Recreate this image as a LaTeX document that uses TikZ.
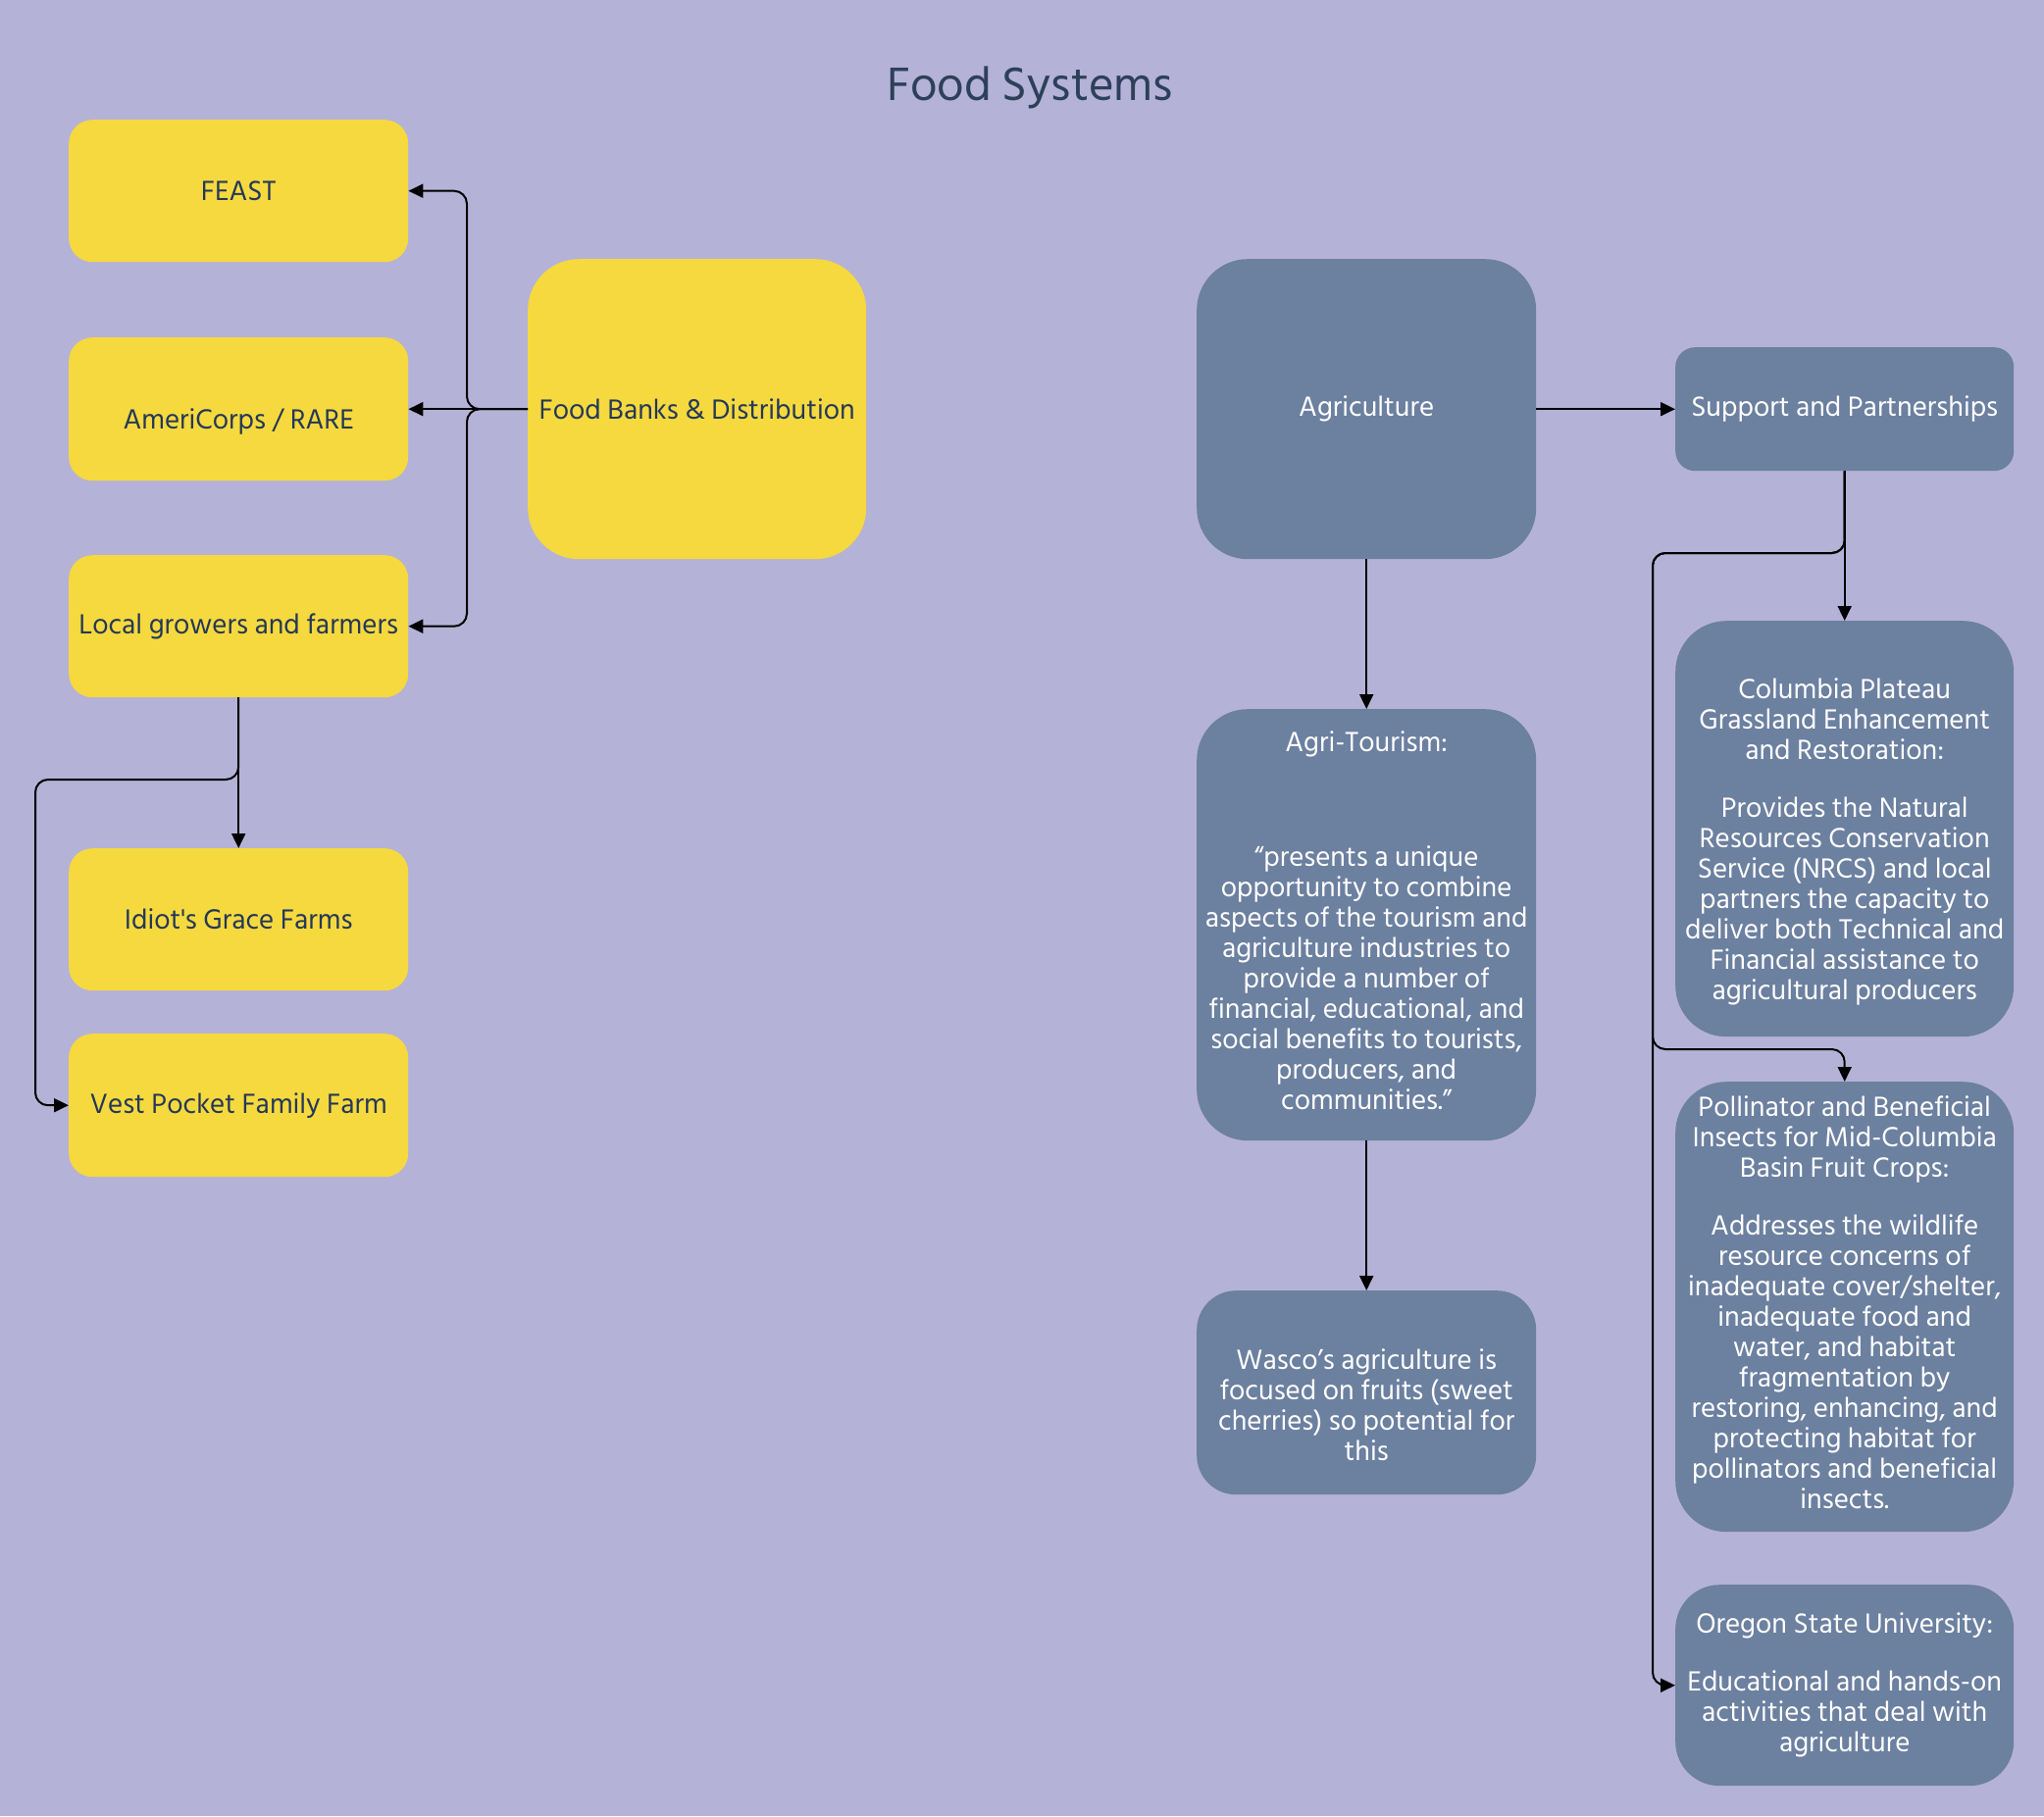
\documentclass[tikz,border=0pt]{standalone}
\usepackage{fontspec}
\setmainfont{Hind Siliguri}[Ligatures=TeXOff]
\usetikzlibrary{arrows.meta}
\definecolor{bgc}{HTML}{B5B2D7}
\definecolor{yel}{HTML}{F5D93E}
\definecolor{slate}{HTML}{6C80A0}
\definecolor{navy}{HTML}{253858}
\definecolor{titlec}{HTML}{2D4059}
\newcommand{\lowerby}[2]{\raisebox{-#1}[\height][\depth]{#2}}
\tikzset{
  box/.style={anchor=north west, inner sep=0pt, align=center, font=\fontsize{29}{31}\selectfont},
  ybox/.style={box, fill=yel, text=navy},
  bbox/.style={box, fill=slate, text=white},
  conn/.style={draw=black, line width=2pt, rounded corners=13pt, -{Triangle[length=15pt,width=14pt]}},
}
\begin{document}
\begin{tikzpicture}[x=1pt,y=-1pt]
\fill[bgc] (0,0) rectangle (2084,1852);
\useasboundingbox (0,0) rectangle (2084,1852);

\node[font=\fontsize{49}{56}\selectfont, text=titlec] (title) at (1050,89) {Food Systems};

% yellow side
\node[ybox, rounded corners=24pt, minimum width=346pt, minimum height=145pt] (feast) at (70,122) {FEAST};
\node[ybox, rounded corners=24pt, minimum width=346pt, minimum height=146pt] (amc) at (70,344) {\lowerby{13pt}{AmeriCorps / RARE}};
\node[ybox, rounded corners=24pt, minimum width=346pt, minimum height=145pt] (lg) at (70,566) {Local growers and farmers};
\node[ybox, rounded corners=24pt, minimum width=346pt, minimum height=145pt] (ig) at (70,865) {Idiot's Grace Farms};
\node[ybox, rounded corners=24pt, minimum width=346pt, minimum height=146pt] (vp) at (70,1054) {Vest Pocket Family Farm};
\node[ybox, rounded corners=52pt, minimum width=345pt, minimum height=306pt] (fb) at (538,264) {Food Banks \& Distribution};

% blue side
\node[bbox, rounded corners=52pt, minimum width=346pt, minimum height=306pt] (ag) at (1220,264) {Agriculture};
\node[bbox, rounded corners=20pt, minimum width=345pt, minimum height=126pt] (sp) at (1708,354) {Support and Partnerships};
\node[bbox, rounded corners=52pt, minimum width=346pt, minimum height=440pt] (at) at (1220,723) {\lowerby{-4pt}{\parbox{340pt}{\centering Agri-Tourism:\\[86pt]
“presents a unique\\ opportunity to combine\\ aspects of the tourism and\\ agriculture industries to\\ provide a number of\\ financial, educational, and\\ social benefits to tourists,\\ producers, and\\ communities.”}}};
\node[bbox, rounded corners=40pt, minimum width=346pt, minimum height=208pt] (wa) at (1220,1316) {\lowerby{12pt}{\parbox{340pt}{\centering Wasco’s agriculture is\\ focused on fruits (sweet\\ cherries) so potential for\\ this}}};
\node[bbox, rounded corners=52pt, minimum width=345pt, minimum height=424pt] (cp) at (1708,633) {\lowerby{13pt}{\parbox{340pt}{\centering Columbia Plateau\\ Grassland Enhancement\\ and Restoration:\\[28pt]
Provides the Natural\\ Resources Conservation\\ Service (NRCS) and local\\ partners the capacity to\\ deliver both Technical and\\ Financial assistance to\\ agricultural producers}}};
\node[bbox, rounded corners=52pt, minimum width=345pt, minimum height=459pt] (pb) at (1708,1103) {\lowerby{-4pt}{\parbox{340pt}{\centering Pollinator and Beneficial\\ Insects for Mid-Columbia\\ Basin Fruit Crops:\\[28pt]
Addresses the wildlife\\ resource concerns of\\ inadequate cover/shelter,\\ inadequate food and\\ water, and habitat\\ fragmentation by\\ restoring, enhancing, and\\ protecting habitat for\\ pollinators and beneficial\\ insects.}}};
\node[bbox, rounded corners=45pt, minimum width=345pt, minimum height=205pt] (osu) at (1708,1616) {Oregon State University:\\[28pt]
Educational and hands-on\\ activities that deal with\\ agriculture};

% connectors, yellow
\draw[conn] (fb.west) -- ++(-62,0) |- (feast.east);
\draw[conn] (fb.west) -- (amc.east);
\draw[conn] (fb.west) -- ++(-62,0) |- (lg.east);
\draw[conn] (lg.south) -- (ig.north);
\draw[conn] (lg.south) |- (36,795) |- (vp.west);

% connectors, blue
\draw[conn] (ag.south) -- (at.north);
\draw[conn] (at.south) -- (wa.north);
\draw[conn] (ag.east) -- (sp.west);
\draw[conn] (sp.south) -- (cp.north);
\draw[conn] (sp.south) |- (1685,564) |- (osu.west);
\draw[conn] (sp.south) |- (1685,564) -- (1685,1070) -| (pb.north);
\end{tikzpicture}
\end{document}
